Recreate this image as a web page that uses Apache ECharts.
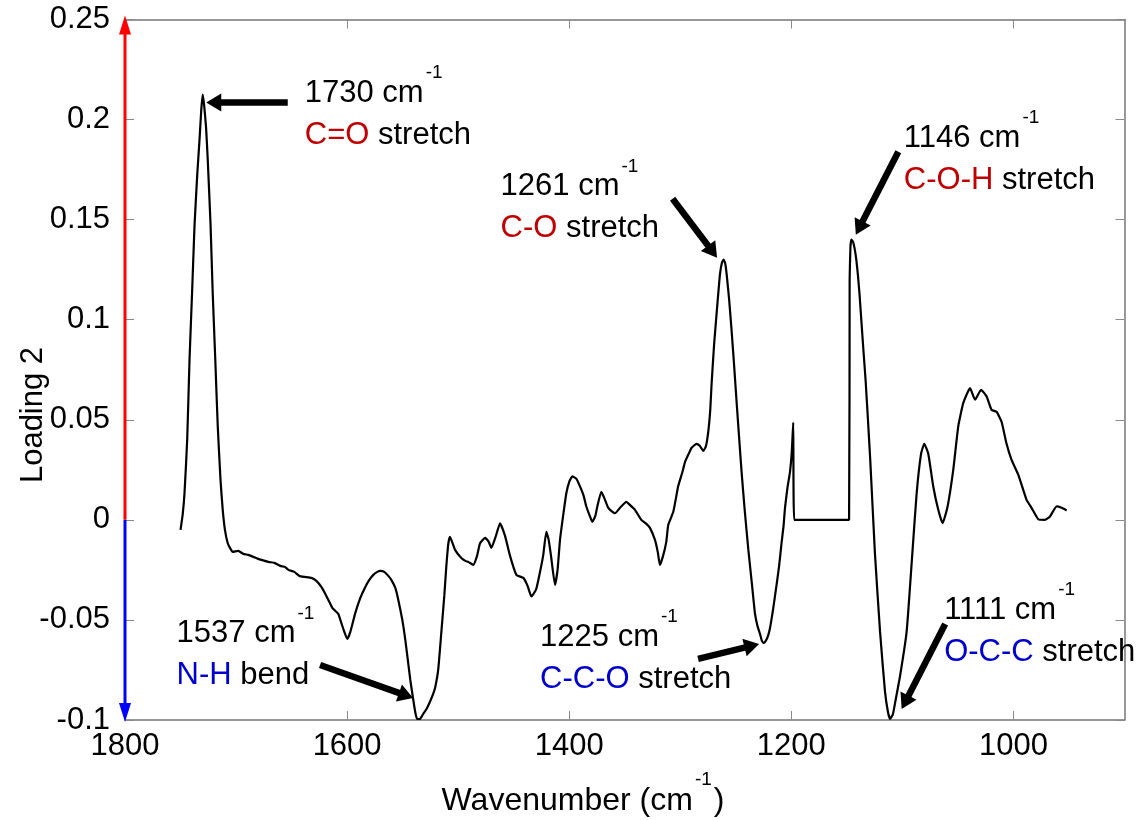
<!DOCTYPE html>
<html>
<head>
<meta charset="utf-8">
<script src="https://cdn.jsdelivr.net/npm/echarts@6/dist/echarts.min.js"></script>
<style>
  html, body { margin: 0; padding: 0; background: #ffffff; }
  #chart { width: 1146px; height: 820px; }
</style>
</head>
<body>
<div id="chart"></div>
<script>
// Second principal-component loading of the FTIR spectrum (1750–950 cm-1)
const wavenumber = [
  1750, 1748, 1746.4, 1744, 1741.9, 1739.5, 1737.4, 1735, 1732.9, 1731.3,
  1730, 1728.7, 1727, 1725.5, 1723, 1721, 1718.7, 1716.5, 1714, 1712,
  1710, 1707.5, 1705, 1703, 1698, 1693.5, 1689, 1684.4, 1680, 1677.2,
  1670.9, 1665.5, 1660.1, 1656, 1652.9, 1647.5, 1643, 1638.5, 1632.2, 1627.7,
  1623.2, 1619.6, 1616.9, 1613.3, 1610.6, 1607.9, 1605.2, 1602.5, 1599.8, 1597.1,
  1592.6, 1588.1, 1583.6, 1580, 1576.4, 1572.8, 1570.1, 1566.5, 1562.9, 1560.2,
  1556.6, 1553.9, 1550.3, 1547.6, 1544.9, 1543.1, 1540.4, 1538.5, 1537, 1534.5,
  1531.5, 1528.5, 1525.5, 1522.5, 1520.6, 1518, 1515.2, 1512.5, 1510.7, 1508.9,
  1507.4, 1502.8, 1497.2, 1493.5, 1490.9, 1486.4, 1483, 1480.3, 1475.8, 1472.5,
  1470.1, 1466, 1462.3, 1457.8, 1453.3, 1447.6, 1441.3, 1437.5, 1434.1, 1430,
  1427.8, 1423.5, 1420.6, 1418.5, 1416.4, 1412.8, 1410.5, 1408.3, 1405.5, 1402.6,
  1400, 1397.2, 1393.5, 1390.3, 1387, 1384.6, 1381.5, 1379.2, 1376.5, 1374.7,
  1371.1, 1368.5, 1364.8, 1361, 1358.8, 1353.5, 1348.6, 1344.5, 1340.8, 1335.1,
  1330.5, 1327.3, 1322.8, 1320.3, 1318.3, 1315.5, 1312.6, 1310.8, 1306.3, 1301.8,
  1298, 1295.7, 1292, 1289.8, 1285.3, 1282.5, 1279.1, 1276.8, 1274.6, 1273,
  1271.8, 1269.5, 1267.3, 1265.5, 1264.2, 1262.5, 1261, 1259.5, 1258.3, 1256,
  1253.8, 1251.5, 1249.3, 1247, 1244.8, 1242, 1238.7, 1235.5, 1232.7, 1230.5,
  1228.2, 1226.5, 1225, 1223, 1221, 1219.2, 1216.5, 1213.3, 1211, 1208.8,
  1207, 1205.7, 1203.5, 1201.2, 1199.6, 1198.3, 1197.4, 1148, 1147.5, 1146.8,
  1146, 1144.5, 1143, 1141.5, 1140, 1138.5, 1137, 1135, 1133.1, 1129.1,
  1124.7, 1120.1, 1115.7, 1113, 1111, 1108.5, 1106.6, 1102.1, 1096.2, 1091.7,
  1087.2, 1083.2, 1080.3, 1076.7, 1072.2, 1067.7, 1063.8, 1059.3, 1054.2, 1049.7,
  1045.2, 1039.1, 1034.6, 1029.2, 1024.2, 1019.7, 1015.2, 1010.7, 1006.2, 1001.7,
  995.6, 988.2, 983.7, 977.6, 971.6, 967.1, 961.1, 956.7, 952.1
];
const loading2 = [
  -0.005, 0.003, 0.0135, 0.04, 0.08, 0.115, 0.147, 0.172, 0.19, 0.205,
  0.2125, 0.207, 0.196, 0.18, 0.148, 0.113, 0.08, 0.047, 0.02, 0.005,
  -0.005, -0.0117, -0.0145, -0.016, -0.0155, -0.017, -0.0175, -0.0185, -0.0195, -0.02,
  -0.021, -0.0215, -0.023, -0.0235, -0.025, -0.026, -0.028, -0.0285, -0.029, -0.0305,
  -0.0335, -0.037, -0.04, -0.044, -0.0455, -0.047, -0.0515, -0.056, -0.0595, -0.056,
  -0.0465, -0.039, -0.0335, -0.03, -0.0275, -0.026, -0.0255, -0.026, -0.028, -0.03,
  -0.034, -0.04, -0.05, -0.06, -0.072, -0.08, -0.09, -0.0965, -0.0995, -0.0995,
  -0.097, -0.0945, -0.091, -0.087, -0.0835, -0.075, -0.0565, -0.038, -0.0235, -0.012,
  -0.0085, -0.015, -0.019, -0.0205, -0.021, -0.0225, -0.018, -0.0117, -0.009, -0.011,
  -0.014, -0.008, -0.0017, -0.008, -0.018, -0.0275, -0.029, -0.033, -0.0383, -0.035,
  -0.03, -0.018, -0.006, -0.01, -0.018, -0.0325, -0.025, -0.01, 0.002, 0.0133,
  0.019, 0.0217, 0.0205, 0.0167, 0.012, 0.0067, 0.002, -0.001, 0.002, 0.0067,
  0.014, 0.011, 0.006, 0.004, 0.0033, 0.0065, 0.009, 0.007, 0.005, 0,
  -0.002, -0.004, -0.01, -0.016, -0.0225, -0.018, -0.011, -0.0025, 0.004, 0.017,
  0.024, 0.029, 0.0335, 0.036, 0.038, 0.037, 0.0345, 0.037, 0.045, 0.055,
  0.068, 0.088, 0.103, 0.115, 0.123, 0.1285, 0.13, 0.128, 0.123, 0.11,
  0.0946, 0.077, 0.059, 0.041, 0.024, 0.005, -0.015, -0.032, -0.047, -0.053,
  -0.057, -0.0605, -0.0615, -0.0605, -0.058, -0.054, -0.045, -0.0325, -0.023, -0.0115,
  -0.003, 0.006, 0.016, 0.024, 0.034, 0.0486, 0, 0, 0.12, 0.136,
  0.14, 0.139, 0.1355, 0.13, 0.122, 0.112, 0.1, 0.084, 0.0695, 0.0316,
  -0.017, -0.056, -0.0856, -0.096, -0.0995, -0.097, -0.0915, -0.078, -0.056, -0.022,
  0.013, 0.033, 0.038, 0.033, 0.0167, 0.005, -0.0017, 0.0067, 0.025, 0.0467,
  0.0583, 0.0658, 0.06, 0.065, 0.0617, 0.055, 0.054, 0.049, 0.038, 0.03,
  0.0225, 0.01, 0.006, 0.0003, 0, 0.0017, 0.0067, 0.006, 0.0047
];

// Axis ranges and tick labels
const xRange = [900, 1800];
const xTickValues = [1000, 1200, 1400, 1600, 1800];
const yRange = [-0.1, 0.25];
const yTickStep = 0.05;

// Assigned bands
const bandWavenumbers = [1730, 1261, 1146, 1537, 1225, 1111];
const bandLoadings = [0.2125, 0.13, 0.14, -0.0995, -0.0615, -0.0995];
const bandGroups = ['C=O', 'C-O', 'C-O-H', 'N-H', 'C-C-O', 'O-C-C'];
const bandModes = ['stretch', 'stretch', 'stretch', 'bend', 'stretch', 'stretch'];

// Callout placement in pixels, relative to each band's point:
// arrow tip, arrow tail, and left/baseline of the first text line
const calloutLayout = [
  { tip: [3.5, 8],    tail: [85, 8],     text: [102, 8.5] },
  { tip: [-6.5, -2],  tail: [-51, -61],  text: [-223, -63.5] },
  { tip: [4.5, -5],   tail: [47, -88],   text: [52.5, -92] },
  { tip: [-4, -21],   tail: [-97, -54],  text: [-240.5, -75.5] },
  { tip: [-4.5, 1],   tail: [-65.5, 16], text: [-223.5, 4] },
  { tip: [11.5, -10], tail: [55, -95],   text: [54, -99] }
];

const FONT = '"Liberation Sans", Arial, Helvetica, sans-serif';
const TEXT_SIZE = 31;
const TICK_SIZE = 31;
const TITLE_SIZE = 32;
const SUP_SIZE = 19;
const LINE_GAP = 42;
const RED_TEXT = '#c00000';
const BLUE_TEXT = '#0000cc';

const measureCtx = document.createElement('canvas').getContext('2d');
function textWidth(str, size) {
  measureCtx.font = size + 'px ' + FONT;
  return measureCtx.measureText(str).width;
}
// zrender lays text out around its middle line; convert from an alphabetic baseline
function middleFromBaseline(baseline, size) {
  return baseline - 0.31 * size;
}
function textEl(str, x, baseline, size, color, align) {
  return {
    type: 'text', silent: true, z: 20,
    x: x, y: middleFromBaseline(baseline, size),
    style: {
      text: str, fill: color, font: size + 'px ' + FONT,
      align: align || 'left', verticalAlign: 'middle'
    }
  };
}

const chart = echarts.init(document.getElementById('chart'), null, { renderer: 'canvas' });

const frameColor = '#767676';
const tickColor = '#8a8a8a';

const option = {
  animation: false,
  backgroundColor: '#ffffff',
  grid: { left: 125, right: 21.5, top: 19.5, bottom: 100, containLabel: false },
  xAxis: [
    {
      type: 'value', min: xRange[0], max: xRange[1], inverse: true, position: 'bottom',
      axisLine: { show: true, onZero: false, lineStyle: { color: frameColor, width: 1.5 } },
      axisTick: { show: true, inside: true, length: 9, customValues: xTickValues,
                  lineStyle: { color: tickColor, width: 1 } },
      axisLabel: { show: true, customValues: xTickValues, fontSize: TICK_SIZE, fontFamily: FONT,
                   color: '#000000', margin: 11, formatter: v => String(v) },
      splitLine: { show: false }
    },
    {
      type: 'value', min: xRange[0], max: xRange[1], inverse: true, position: 'top',
      axisLine: { show: true, onZero: false, lineStyle: { color: frameColor, width: 1.5 } },
      axisTick: { show: true, inside: true, length: 9, customValues: xTickValues,
                  lineStyle: { color: tickColor, width: 1 } },
      axisLabel: { show: false },
      splitLine: { show: false }
    }
  ],
  yAxis: [
    {
      type: 'value', min: yRange[0], max: yRange[1], interval: yTickStep, position: 'left',
      axisLine: { show: false },
      axisTick: { show: true, inside: true, length: 9, lineStyle: { color: tickColor, width: 1 } },
      axisLabel: { show: true, fontSize: TICK_SIZE, fontFamily: FONT, color: '#000000', margin: 15,
                   formatter: v => String(parseFloat(v.toFixed(2))) },
      splitLine: { show: false }
    },
    {
      type: 'value', min: yRange[0], max: yRange[1], interval: yTickStep, position: 'right',
      axisLine: { show: true, onZero: false, lineStyle: { color: frameColor, width: 1.5 } },
      axisTick: { show: true, inside: true, length: 9, lineStyle: { color: tickColor, width: 1 } },
      axisLabel: { show: false },
      splitLine: { show: false }
    }
  ],
  series: [
    {
      name: 'Loading 2', type: 'line', xAxisIndex: 0, yAxisIndex: 0,
      data: wavenumber.map((w, i) => [w, loading2[i]]),
      showSymbol: false, symbol: 'none', smooth: 0.15,
      lineStyle: { color: '#000000', width: 2.2 },
      silent: true, z: 5
    }
  ]
};
chart.setOption(option);

function arrowEls(tip, tail, shaftW, headLen, headW) {
  const dx = tip[0] - tail[0], dy = tip[1] - tail[1];
  const len = Math.hypot(dx, dy);
  const ux = dx / len, uy = dy / len;
  const nx = -uy, ny = ux;
  const bx = tip[0] - ux * headLen, by = tip[1] - uy * headLen;
  return [
    { type: 'line', silent: true, z: 15,
      shape: { x1: tail[0], y1: tail[1], x2: bx + ux * 2, y2: by + uy * 2 },
      style: { stroke: '#000000', lineWidth: shaftW, lineCap: 'butt' } },
    { type: 'polygon', silent: true, z: 15,
      shape: { points: [[tip[0], tip[1]], [bx + nx * headW / 2, by + ny * headW / 2],
                        [bx - nx * headW / 2, by - ny * headW / 2]] },
      style: { fill: '#000000' } }
  ];
}

function buildOverlay() {
  const els = [];
  const toPx = (x, y) => chart.convertToPixel({ xAxisIndex: 0, yAxisIndex: 0 }, [x, y]);

  // Left axis drawn in two colours: positive loadings red, negative blue
  const origin = toPx(xRange[1], 0);
  const top = toPx(xRange[1], yRange[1]);
  const bottom = toPx(xRange[1], yRange[0]);
  const axisX = origin[0];
  els.push({ type: 'line', silent: true, z: 12,
    shape: { x1: axisX, y1: origin[1], x2: axisX, y2: top[1] + 8 },
    style: { stroke: '#ff0000', lineWidth: 3 } });
  els.push({ type: 'polygon', silent: true, z: 12,
    shape: { points: [[axisX, top[1] - 4], [axisX - 6, top[1] + 15], [axisX + 6, top[1] + 15]] },
    style: { fill: '#ff0000' } });
  els.push({ type: 'line', silent: true, z: 12,
    shape: { x1: axisX, y1: origin[1], x2: axisX, y2: bottom[1] - 8 },
    style: { stroke: '#0000ff', lineWidth: 3 } });
  els.push({ type: 'polygon', silent: true, z: 12,
    shape: { points: [[axisX, bottom[1] + 2], [axisX - 6, bottom[1] - 17], [axisX + 6, bottom[1] - 17]] },
    style: { fill: '#0000ff' } });

  // Band callouts
  bandWavenumbers.forEach((w, i) => {
    const p = toPx(w, bandLoadings[i]);
    const lay = calloutLayout[i];
    const tip = [p[0] + lay.tip[0], p[1] + lay.tip[1]];
    const tail = [p[0] + lay.tail[0], p[1] + lay.tail[1]];
    els.push(...arrowEls(tip, tail, 6.5, 15, 18));

    const left = p[0] + lay.text[0];
    const base1 = p[1] + lay.text[1];
    const base2 = base1 + LINE_GAP;
    const first = w + ' cm';
    els.push(textEl(first, left, base1, TEXT_SIZE, '#000000'));
    els.push(textEl('-1', left + textWidth(first, TEXT_SIZE) + 2, base1 - 24, SUP_SIZE, '#000000'));
    const groupColor = bandLoadings[i] >= 0 ? RED_TEXT : BLUE_TEXT;
    els.push(textEl(bandGroups[i], left, base2, TEXT_SIZE, groupColor));
    els.push(textEl(' ' + bandModes[i], left + textWidth(bandGroups[i], TEXT_SIZE), base2, TEXT_SIZE, '#000000'));
  });

  // Axis titles
  const xMain = 'Wavenumber (cm';
  const wMain = textWidth(xMain, TITLE_SIZE);
  const wSup = textWidth('-1', SUP_SIZE);
  const wClose = textWidth(')', TITLE_SIZE);
  const titleCenter = 583;
  const titleLeft = titleCenter - (wMain + wSup + wClose + 4) / 2;
  const titleBase = 811;
  els.push(textEl(xMain, titleLeft, titleBase, TITLE_SIZE, '#000000'));
  els.push(textEl('-1', titleLeft + wMain + 2, titleBase - 25, SUP_SIZE, '#000000'));
  els.push(textEl(')', titleLeft + wMain + wSup + 4, titleBase, TITLE_SIZE, '#000000'));

  els.push({ type: 'text', silent: true, z: 20, x: 33, y: 415, rotation: Math.PI / 2,
    style: { text: 'Loading 2', fill: '#000000', font: TEXT_SIZE + 'px ' + FONT,
             align: 'center', verticalAlign: 'middle' } });

  chart.setOption({ graphic: { elements: els } });
}
buildOverlay();
</script>
</body>
</html>
